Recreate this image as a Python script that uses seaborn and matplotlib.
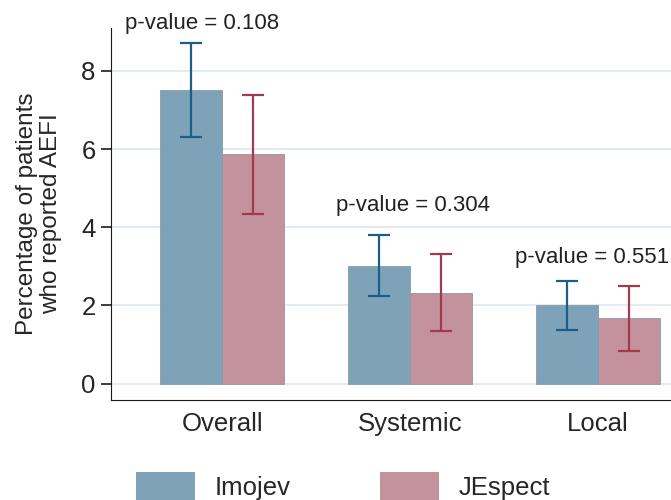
import seaborn as sns
import pandas as pd
from matplotlib import pyplot as plt

# percentuale di pazienti con AEFI per gruppo
categories = ["Overall", "Systemic", "Local"]
groups = ["Imojev", "JEspect"]
imojev = [7.52, 3.02, 2.00]
imojev_lo = [6.32, 2.24, 1.36]
imojev_hi = [8.71, 3.79, 2.63]
jespect = [5.87, 2.33, 1.67]
jespect_lo = [4.35, 1.35, 0.84]
jespect_hi = [7.39, 3.31, 2.50]
pvalues = ["0.108", "0.304", "0.551"]

df = pd.DataFrame({
    "cat": categories * 2,
    "group": [groups[0]] * 3 + [groups[1]] * 3,
    "pct": imojev + jespect,
    "lo": imojev_lo + jespect_lo,
    "hi": imojev_hi + jespect_hi,
})

sns.set_style("white")
plt.rcParams["font.family"] = ["Liberation Sans", "DejaVu Sans"]

fig = plt.figure(figsize=(6.71, 5), dpi=100)
ax = fig.add_axes([0.1654, 0.2, 0.84, 0.744])

bar_cols = ["#7ea3b9", "#c4929d"]
err_cols = ["#1d5e86", "#a23a4c"]

sns.barplot(data=df, x="cat", y="pct", hue="group", order=categories,
            hue_order=groups, palette=bar_cols, saturation=1, width=0.66, gap=0,
            errorbar=None, edgecolor="#8a9aa5", linewidth=0.6, ax=ax,
            legend=False)

# barre di errore al centro di ogni barra
bar_conts = list(ax.containers)[:2]
for i, cont in enumerate(bar_conts):
    sub = df[df["group"] == groups[i]].set_index("cat").loc[categories]
    for bar, (_, r) in zip(cont, sub.iterrows()):
        xc = bar.get_x() + bar.get_width() / 2
        ax.errorbar(xc, r["pct"], yerr=[[r["pct"] - r["lo"]], [r["hi"] - r["pct"]]],
                    fmt="none", ecolor=err_cols[i], elinewidth=1.6, capsize=8,
                    capthick=1.6, zorder=5)

# p-value sopra ogni gruppo (posizione delle etichette)
p_dx = [-0.107, 0.016, -0.03]
p_y = [9.22, 4.55, 3.22]
for j, p in enumerate(pvalues):
    ax.text(j + p_dx[j], p_y[j], "p-value = " + p, ha="center", va="center",
            fontsize=16, color="#222222", clip_on=False)

ax.set_ylim(-0.42, 9.1)
ax.set_xlim(-0.593, 2.41)
ax.set_yticks([0, 2, 4, 6, 8])
ax.yaxis.grid(True, color="#dce8ee", linewidth=1.2)
ax.set_axisbelow(True)
for s in ["top", "right"]:
    ax.spines[s].set_visible(False)
ax.spines["left"].set_color("#1a1a1a")
ax.spines["bottom"].set_color("#1a1a1a")
ax.tick_params(axis="y", left=True, length=7, width=1.2, labelsize=18.5, pad=4,
               color="#1a1a1a")
ax.tick_params(axis="x", bottom=False, labelsize=18.5, pad=5)
ax.set_xlabel("")
ax.set_ylabel("Percentage of patients\nwho reported AEFI", fontsize=17.5,
              linespacing=1.1, labelpad=14)

handles = [plt.Rectangle((0, 0), 1, 1, fc=c, ec="none") for c in bar_cols]
fig.legend(handles, groups, loc="center left", bbox_to_anchor=(0.168, 0.027),
           ncol=2, frameon=False, fontsize=18.5, handlelength=2.3, handleheight=1.3,
           columnspacing=3.5, handletextpad=0.75)

plt.savefig("out.png", dpi=100)
